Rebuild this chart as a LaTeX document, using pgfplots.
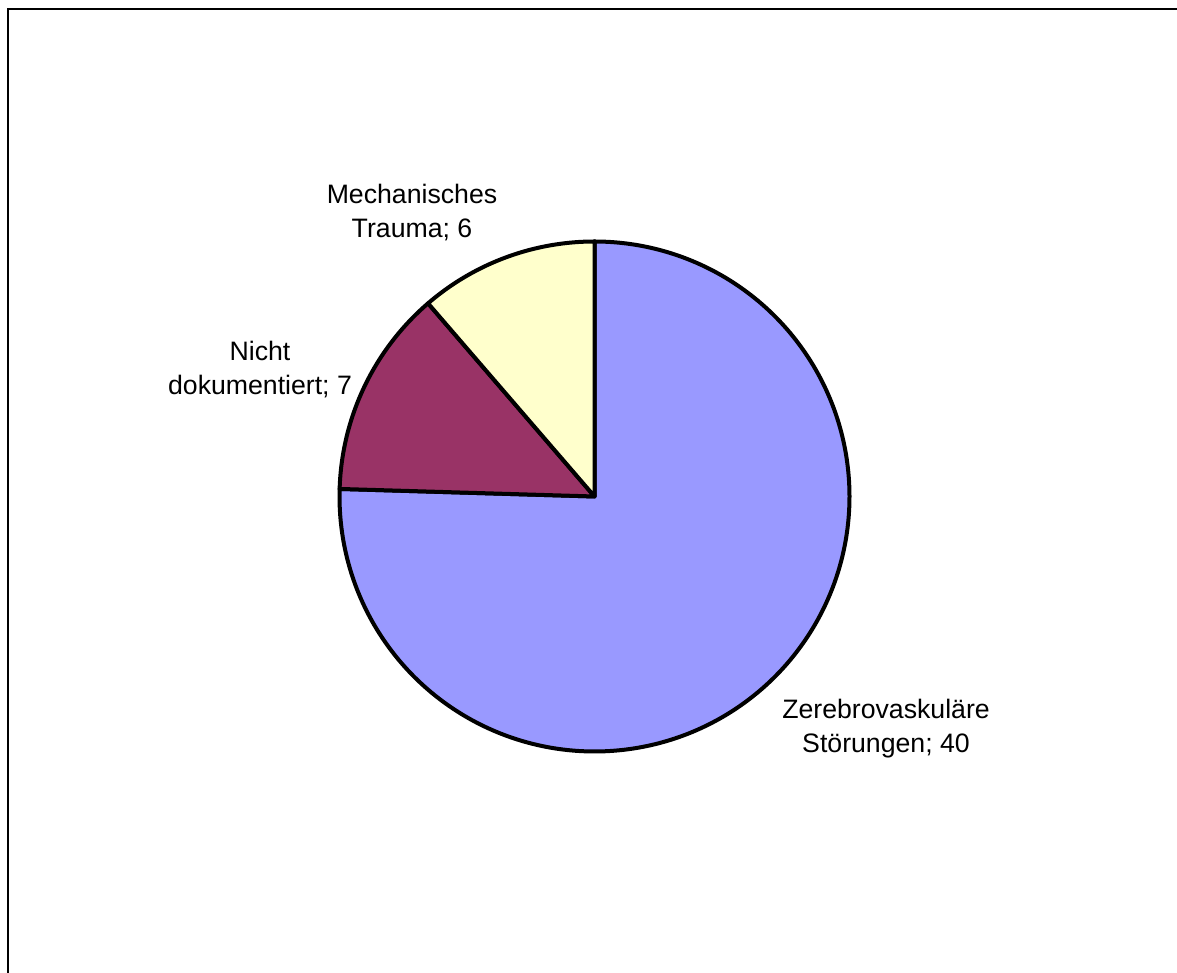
\documentclass[border=0pt]{standalone}
\usepackage{fontspec}
\setmainfont{Liberation Sans}
\usepackage{pgfplots}
\pgfplotsset{compat=1.18}
\definecolor{zblue}{HTML}{9999FF}
\definecolor{zmaroon}{HTML}{993366}
\definecolor{zyellow}{HTML}{FFFFCC}
% data: Zerebrovaskuläre Störungen, Nicht dokumentiert, Mechanisches Trauma
\def\vA{40}
\def\vB{7}
\def\vC{6}
\pgfmathsetmacro\vT{\vA+\vB+\vC}
\pgfmathsetmacro\aA{90}
\pgfmathsetmacro\aB{\aA-360*\vA/\vT}
\pgfmathsetmacro\aC{\aB-360*\vB/\vT}
\pgfmathsetmacro\aD{\aC-360*\vC/\vT}
\begin{document}
\begin{tikzpicture}
\begin{axis}[
  x=0.75pt, y=0.75pt,
  xmin=0, xmax=1177, ymin=0, ymax=973,
  scale only axis, hide axis, clip=false,
  anchor=origin, at={(0,0)},
]
\draw[line width=1.7pt, black] (axis cs:7.8,-20) -- (axis cs:7.8,963.7) -- (axis cs:1200,963.7);
\addplot[fill=zblue, draw=black, line width=3pt, line join=round, domain=\aA:\aB, samples=300, variable=\t]
  ({594.5+255*cos(\t)},{476.5+255*sin(\t)}) -- (axis cs:594.5,476.5) -- cycle;
\addplot[fill=zmaroon, draw=black, line width=3pt, line join=round, domain=\aB:\aC, samples=80, variable=\t]
  ({594.5+255*cos(\t)},{476.5+255*sin(\t)}) -- (axis cs:594.5,476.5) -- cycle;
\addplot[fill=zyellow, draw=black, line width=3pt, line join=round, domain=\aC:\aD, samples=80, variable=\t]
  ({594.5+255*cos(\t)},{476.5+255*sin(\t)}) -- (axis cs:594.5,476.5) -- cycle;
\node[align=center, inner sep=0pt, font=\fontsize{20}{25.5}\selectfont] at (axis cs:412,760) {Mechanisches\\Trauma; 6};
\node[align=center, inner sep=0pt, font=\fontsize{20}{25.5}\selectfont] at (axis cs:260,603) {Nicht\\dokumentiert; 7};
\node[align=center, inner sep=0pt, font=\fontsize{20}{25.5}\selectfont] at (axis cs:886,244) {Zerebrovaskuläre\\Störungen; 40};
\end{axis}
\pgfresetboundingbox
\useasboundingbox (0,0) rectangle (882.75pt,729.75pt);
\end{tikzpicture}
\end{document}
